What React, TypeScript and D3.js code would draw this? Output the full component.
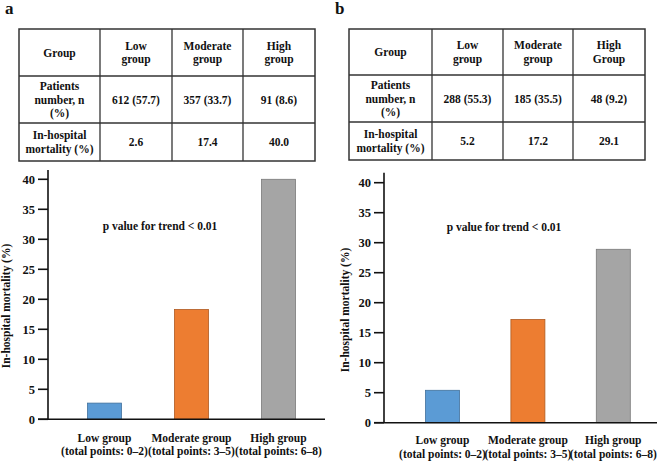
import React from "react";
import * as d3 from "d3";

const groups = ["Low", "Moderate", "High"];
const xLine1 = ["Low group", "Moderate group", "High group"];
const xLine2A = ["(total points: 0–2)", "(total points: 3–5)", "(total points: 6–8)"];
const valuesA = [2.7, 18.3, 40];
const valuesB = [5.4, 17.2, 28.9];
const yTicks = [0, 5, 10, 15, 20, 25, 30, 35, 40];
const colors = ["#5b9bd5", "#ed7d31", "#a5a5a5"];
const strokes = ["#41719c", "#ae5a21", "#7a7a7a"];

const headerA = ["Group", "Low\ngroup", "Moderate\ngroup", "High\ngroup"];
const headerB = ["Group", "Low\ngroup", "Moderate\ngroup", "High\nGroup"];
const patientsA = ["Patients\nnumber, n\n(%)", "612 (57.7)", "357 (33.7)", "91 (8.6)"];
const patientsB = ["Patients\nnumber, n\n(%)", "288 (55.3)", "185 (35.5)", "48 (9.2)"];
const mortalityA = ["In-hospital\nmortality (%)", "2.6", "17.4", "40.0"];
const mortalityB = ["In-hospital\nmortality (%)", "5.2", "17.2", "29.1"];

const FONT = "'Liberation Serif', 'Times New Roman', serif";

function CellText({ text, cx, cy, lh }: { text: string; cx: number; cy: number; lh: number }) {
  const lines = text.split("\n");
  const start = cy - ((lines.length - 1) * lh) / 2;
  return (
    <text textAnchor="middle" fontFamily={FONT} fontWeight="bold" fontSize={11.5} fill="#111">
      {lines.map((l, i) => (
        <tspan key={i} x={cx} y={start + i * lh} dy="0.35em">
          {l}
        </tspan>
      ))}
    </text>
  );
}

function Table({ x0, x1, cols, rows, data }: { x0: number; x1: number; cols: number[]; rows: number[]; data: string[][] }) {
  const xs = [x0, ...cols, x1];
  return (
    <g>
      <rect x={x0} y={rows[0]} width={x1 - x0} height={rows[rows.length - 1] - rows[0]} fill="none" stroke="#333" strokeWidth={1.5} />
      {cols.map((c, i) => (
        <line key={"c" + i} x1={c} x2={c} y1={rows[0]} y2={rows[rows.length - 1]} stroke="#333" strokeWidth={1.3} />
      ))}
      {rows.slice(1, -1).map((r, i) => (
        <line key={"r" + i} x1={x0} x2={x1} y1={r} y2={r} stroke="#333" strokeWidth={1.3} />
      ))}
      {data.map((row, ri) =>
        row.map((cell, ci) => (
          <CellText
            key={ri + "-" + ci}
            text={cell}
            cx={(xs[ci] + xs[ci + 1]) / 2}
            cy={(rows[ri] + rows[ri + 1]) / 2}
            lh={13.5}
          />
        ))
      )}
    </g>
  );
}

function BarPanel({
  values,
  axisX,
  y0,
  y40,
  axisTop,
  xRange,
  xEnd,
  labelX,
  labelY,
  pX,
  pY,
  l1Y,
  l2Y,
}: {
  values: number[];
  axisX: number;
  y0: number;
  y40: number;
  axisTop: number;
  xRange: [number, number];
  xEnd: number;
  labelX: number;
  labelY: number;
  pX: number;
  pY: number;
  l1Y: number;
  l2Y: number;
}) {
  const y = d3.scaleLinear().domain([0, 40]).range([y0, y40]);
  const x = d3.scalePoint<string>().domain(groups).range(xRange).padding(0.5);
  const bw = 34;
  return (
    <g fontFamily={FONT} fontWeight="bold">
      {groups.map((g, i) => (
        <rect
          key={g}
          x={(x(g) as number) - bw / 2}
          y={y(values[i])}
          width={bw}
          height={y(0) - y(values[i])}
          fill={colors[i]}
          stroke={strokes[i]}
          strokeWidth={0.8}
        />
      ))}
      <line x1={axisX} x2={axisX} y1={axisTop} y2={y(0)} stroke="#111" strokeWidth={1.6} />
      <line x1={axisX - 10} x2={xEnd} y1={y(0)} y2={y(0)} stroke="#111" strokeWidth={1.6} />
      {yTicks.map((t) => (
        <g key={t}>
          <line x1={axisX - 10} x2={axisX} y1={y(t)} y2={y(t)} stroke="#111" strokeWidth={1.6} />
          <text x={axisX - 13} y={y(t)} dy="0.35em" textAnchor="end" fontSize={12.5} fill="#111">
            {t}
          </text>
        </g>
      ))}
      <text
        transform={`translate(${labelX},${labelY}) rotate(-90)`}
        textAnchor="middle"
        dy="0.35em"
        fontSize={11.5}
        fill="#111"
      >
        In-hospital mortality (%)
      </text>
      <text x={pX} y={pY} dy="0.35em" textAnchor="middle" fontSize={11.5} fill="#111">
        p value for trend &lt; 0.01
      </text>
      {groups.map((g, i) => (
        <g key={"l" + g}>
          <text x={x(g) as number} y={l1Y} dy="0.35em" textAnchor="middle" fontSize={11.5} fill="#111">
            {xLine1[i]}
          </text>
          <text x={x(g) as number} y={l2Y} dy="0.35em" textAnchor="middle" fontSize={11.5} fill="#111">
            {xLine2A[i]}
          </text>
        </g>
      ))}
    </g>
  );
}

export default function App() {
  return (
    <svg width={660} height={462} style={{ position: "absolute", left: 0, top: 0, background: "#fff" }}>
      <rect width={660} height={462} fill="#fff" />
      <text x={5} y={14} fontFamily={FONT} fontWeight="bold" fontSize={17} fill="#111">a</text>
      <text x={335} y={14} fontFamily={FONT} fontWeight="bold" fontSize={17} fill="#111">b</text>
      <Table x0={19} x1={315} cols={[100, 172, 243]} rows={[29, 76, 123, 161]} data={[headerA, patientsA, mortalityA]} />
      <Table x0={349} x1={645} cols={[432, 503, 573]} rows={[29, 75, 122, 160]} data={[headerB, patientsB, mortalityB]} />
      <BarPanel
        values={valuesA}
        axisX={48}
        y0={419.3}
        y40={179.3}
        axisTop={170}
        xRange={[61, 322]}
        xEnd={325}
        labelX={6}
        labelY={306}
        pX={160}
        pY={226}
        l1Y={437.5}
        l2Y={451}
      />
      <BarPanel
        values={valuesB}
        axisX={384}
        y0={422.7}
        y40={182.7}
        axisTop={172.7}
        xRange={[399.8, 656]}
        xEnd={657}
        labelX={345}
        labelY={310}
        pX={504}
        pY={227}
        l1Y={440}
        l2Y={454}
      />
    </svg>
  );
}
